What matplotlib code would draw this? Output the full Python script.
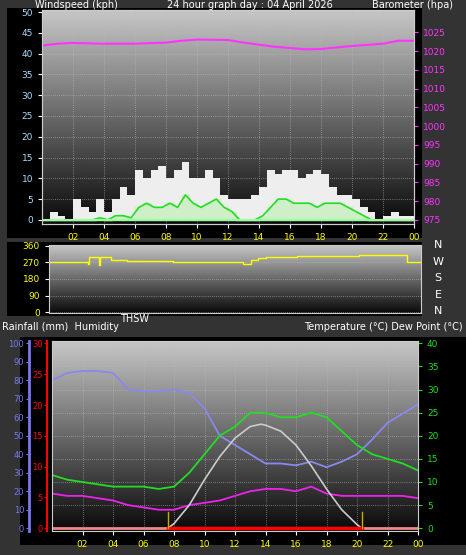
import numpy as np
import matplotlib
matplotlib.use("Agg")
import matplotlib.pyplot as plt

W, H = 466, 555
# ---------------- data ----------------
hours_half = np.arange(0, 24, 0.5)
gust = [0,2,1,0,5,3,2,5,2,5,8,6,12,10,12,13,10,12,14,10,10,12,10,6,
        5,5,5,6,8,12,11,12,12,10,11,12,11,8,6,6,5,3,2,0,1,2,1,1]
wind_avg = [0,0,0,0,0,0,0,0.5,0,1,1,0.5,3,4,3,3,4,3,6,4,3,4,5,3,
            2,0,0,0,1,3,5,5,4,4,4,3,4,4,4,3,2,1,0,0,0,0,0,0]
baro_h = [0,1,2,4,6,8,9,10,12,13,15,17,18,20,22,23,24]
baro = [1021.5,1022,1022.2,1022,1022,1022.3,1022.8,1023.1,1023,1022.3,1021.2,1020.5,1020.6,1021.4,1022,1022.8,1022.8]
dir_h = [0,2,2.5,2.6,3,3.2,3.3,4,5,8,10,12,12.5,13,13.5,14,16,18,20,21,22,23,23.1,24]
wdir = [270,270,262,300,300,258,300,285,280,270,272,272,262,285,292,300,305,305,308,312,310,310,270,275]
hrs = np.arange(0, 25)
humidity = [80,84,85,85,84,75,74,74,75,73,65,50,45,40,35,35,34,36,33,36,40,48,57,62,67]
temperature = [11.5,10.5,10,9.5,9,9,9,8.5,9,12,16,20,22,25,25,24,24,25,24,21,18,16,15,14,12.5]
dewpoint = [7.5,7,7,6.5,6,5,4.5,4,4,5,5.5,6,7,8,8.5,8.5,8,9,7.5,7,7,7,7,7,6.5]
thsw_h = [7.6,8,9,10,11,12,13,13.7,14,15,16,17,18,19,20,20.3]
thsw = [0,1,5,10.5,15.5,19.5,22,22.5,22.3,21,18,13.5,8.5,4,0.8,0]
sunrise, sunset = 7.6, 20.3
xt = [2,4,6,8,10,12,14,16,18,20,22,24]
xtl = ["02","04","06","08","10","12","14","16","18","20","22","00"]

fig = plt.figure(figsize=(W/100, H/100), dpi=100, facecolor="#333333")

def ax_px(x0, y0, x1, y1, **kw):
    return fig.add_axes([x0/W, 1-y1/H, (x1-x0)/W, (y1-y0)/H], **kw)

# black panels
for (x0,y0,x1,y1) in [(7,8,422,238),(7,242,422,316),(20,337,466,545)]:
    p = ax_px(x0,y0,x1,y1, zorder=-10)
    p.set_facecolor("black"); p.set_xticks([]); p.set_yticks([])
    for s in p.spines.values(): s.set_visible(False)

grad = np.linspace(0, 1, 256)[:, None]
def bg(ax):
    ax.imshow(grad, aspect="auto", cmap="gray", extent=(0,1,0,1), transform=ax.transAxes,
              vmin=-0.05, vmax=1.3, zorder=0, origin="lower")

def style(ax, col="white"):
    ax.tick_params(colors=col, labelsize=6.5, length=3, direction="out")
    for s in ax.spines.values():
        s.set_color("#cccccc")

# ---------- top: wind + barometer ----------
a1 = ax_px(42, 10, 414, 224)
bg(a1)
a1.set_xlim(0, 24); a1.set_ylim(-1, 50.5)
a1.set_yticks(range(0, 51, 5))
a1.set_xticks(xt); a1.set_xticklabels(xtl)
a1.grid(True, color="#bbbbbb", lw=0.5, ls=(0,(1,2)))
a1.bar(hours_half, gust, width=0.5, align="edge", color="#eeeeee", zorder=2)
a1.fill_between(np.append(hours_half, 24), 0, np.append(wind_avg, 0), step="post", color="#c8f0c0", alpha=0.8, zorder=3)
a1.plot(hours_half+0.25, wind_avg, color="#22dd22", lw=1.2, zorder=4)
a1.axhline(0, color="#99ff99", lw=1.5, zorder=4)
style(a1)
for t in a1.get_xticklabels(): t.set_color("yellow")
for t in a1.get_yticklabels(): t.set_color("#aaddff")
b1 = a1.twinx()
b1.set_ylim(973.9, 1031)
b1.plot(baro_h, baro, color="#ff33ff", lw=1.5)
b1.set_yticks(range(975, 1030, 5))
style(b1)
b1.tick_params(colors="#ff33ff")
fig.text(35/W, 1-5/H, "Windspeed (kph)", color="white", fontsize=7, va="center")
fig.text(250/W, 1-5/H, "24 hour graph day : 04 April 2026", color="white", fontsize=7, va="center", ha="center")
fig.text(372/W, 1-5/H, "Barometer (hpa)", color="white", fontsize=7, va="center")

# ---------- middle: wind direction ----------
a2 = ax_px(49, 245, 421, 313)
bg(a2)
a2.set_xlim(0, 24); a2.set_ylim(-5, 365)
a2.set_yticks([0,90,180,270,360]); a2.set_xticks([])
a2.grid(True, axis="y", color="#bbbbbb", lw=0.5, ls=(0,(1,2)))
a2.step(dir_h, wdir, where="post", color="yellow", lw=1)
style(a2)
for t in a2.get_yticklabels(): t.set_color("yellow")
for i, l in enumerate(["N","W","S","E","N"]):
    fig.text(438/W, 1-(245+i*16.5)/H, l, color="white", fontsize=8, ha="center", va="center")
fig.text(120/W, 1-319/H, "THSW", color="white", fontsize=7, va="center")
fig.text(2/W, 1-327/H, "Rainfall (mm)  Humidity", color="white", fontsize=7, va="center")
fig.text(463/W, 1-327/H, "Temperature (°C) Dew Point (°C)", color="white", fontsize=7, va="center", ha="right")

# ---------- bottom: temp / humidity ----------
a3 = ax_px(52, 341, 418, 531)
bg(a3)
a3.set_xlim(0, 24); a3.set_ylim(-0.6, 40.5)
a3.set_xticks(xt); a3.set_xticklabels(xtl)
a3.set_yticks(range(0, 41, 5))
a3.grid(True, color="#bbbbbb", lw=0.5, ls=(0,(1,2)))
a3.yaxis.tick_right()
a3.plot(hrs, [h*0.4 for h in humidity], color="#8888ee", lw=1.3)
a3.plot(hrs, temperature, color="#22dd22", lw=1.3)
a3.plot(hrs, dewpoint, color="#ee22ee", lw=1.3)
a3.plot(thsw_h, thsw, color="#cccccc", lw=1.2)
a3.plot([0, 24], [0, 0], color="#ee8888", lw=2)
a3.plot([sunrise, sunset], [0, 0], color="red", lw=2.5)
for s in (sunrise, sunset):
    a3.plot([s, s], [0, 3.5], color="#ccaa00", lw=1)
style(a3)
a3.tick_params(axis="y", colors="#22dd22")
for t in a3.get_xticklabels(): t.set_color("yellow")
hum = ax_px(29, 341, 30, 531); hum.set_facecolor("none")
hum.set_ylim(-1.5, 101.3); hum.set_yticks(range(0, 101, 10)); hum.set_xticks([])
for s in ["top","bottom","right"]: hum.spines[s].set_visible(False)
hum.spines["left"].set_color("#7777ee"); hum.spines["left"].set_linewidth(2)
hum.tick_params(colors="#7777ee", labelsize=6, length=2, pad=1.5)
rain = ax_px(47, 341, 48, 531); rain.set_facecolor("none")
rain.set_ylim(-0.45, 30.4); rain.set_yticks(range(0, 31, 5)); rain.set_xticks([])
for s in ["top","bottom","right"]: rain.spines[s].set_visible(False)
rain.spines["left"].set_color("red"); rain.spines["left"].set_linewidth(1.5)
rain.tick_params(colors="red", labelsize=6, length=2, pad=1)

fig.savefig("out.png", dpi=100, facecolor=fig.get_facecolor())
